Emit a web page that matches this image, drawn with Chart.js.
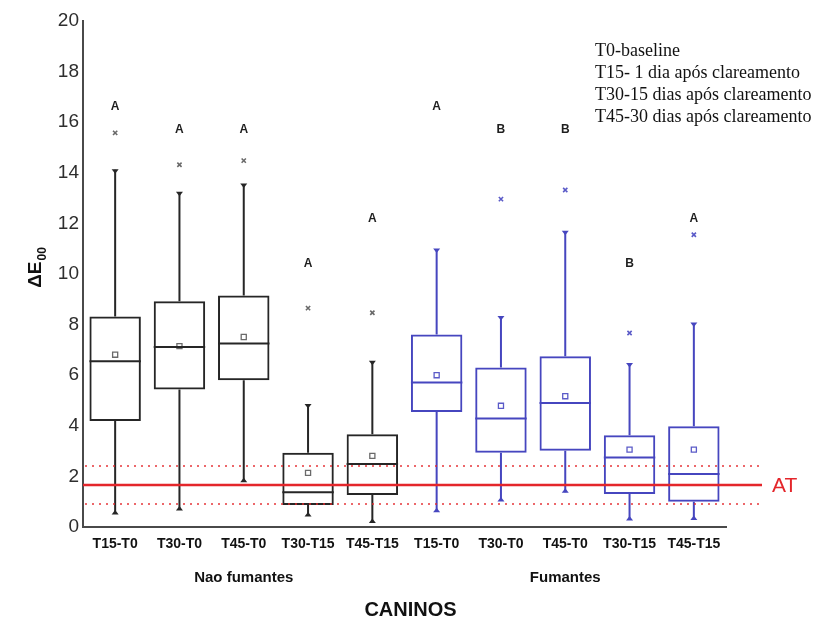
<!DOCTYPE html>
<html>
<head>
<meta charset="utf-8">
<script src="https://cdn.jsdelivr.net/npm/chart.js@4/dist/chart.umd.min.js"></script>
<style>
  html, body { margin: 0; padding: 0; background: #ffffff; }
  #wrap { position: relative; width: 822px; height: 625px; }
</style>
</head>
<body>
<div id="wrap"><canvas id="c" width="822" height="625"></canvas></div>
<script>
// ---- data ----
const categories = ['T15-T0', 'T30-T0', 'T45-T0', 'T30-T15', 'T45-T15', 'T15-T0', 'T30-T0', 'T45-T0', 'T30-T15', 'T45-T15'];
const groupNames = ['Nao fumantes', 'Fumantes'];
const groupOf = [0, 0, 0, 0, 0, 1, 1, 1, 1, 1];
const lowWhisker  = [0.51, 0.67, 1.79, 0.43, 0.18, 0.60, 1.03, 1.37, 0.28, 0.30];
const q1          = [4.19, 5.43, 5.80, 0.87, 1.26, 4.55, 2.93, 3.01, 1.30, 1.00];
const medians     = [6.55, 7.11, 7.25, 1.37, 2.49, 5.71, 4.29, 4.90, 2.75, 2.09];
const q3          = [8.32, 8.92, 9.15, 2.93, 3.67, 7.61, 6.30, 6.75, 3.63, 3.98];
const highWhisker = [14.12, 13.23, 13.56, 4.84, 6.55, 10.99, 8.32, 11.69, 6.46, 8.06];
const means       = [6.81, 7.15, 7.51, 2.14, 2.81, 6.00, 4.79, 5.17, 3.06, 3.06];
const outliers    = [15.58, 14.32, 14.48, 8.65, 8.47, null, 12.96, 13.32, 7.67, 11.55];
const letters     = ['A', 'A', 'A', 'A', 'A', 'A', 'B', 'B', 'B', 'A'];
const letterValue = [16.6, 15.7, 15.7, 10.4, 12.2, 16.6, 15.7, 15.7, 10.4, 12.2];
const atValue = 1.66;
const atLower = 0.91;
const atUpper = 2.41;
const atLabel = 'AT';
const notes = ['T0-baseline', 'T15- 1 dia após clareamento', 'T30-15 dias após clareamento', 'T45-30 dias após clareamento'];
const yMin = 0, yMax = 20, yStep = 2;
const xTitle = 'CANINOS';

// ---- styles ----
const groupColors = ['#262626', '#4646bf'];
const markerColors = ['#6a6a6a', '#5b5bc8'];
const red = '#e4262b';
const colorOf = i => groupColors[groupOf[i]];

const boxPlotPlugin = {
  id: 'boxExtras',
  afterDatasetsDraw(chart) {
    const ctx = chart.ctx;
    const xs = chart.scales.x, ys = chart.scales.y;
    const ca = chart.chartArea;
    const boxes = chart.getDatasetMeta(0).data;
    ctx.save();
    categories.forEach((c, i) => {
      const x = xs.getPixelForValue(i);
      const col = colorOf(i);
      const bar = boxes[i];
      const half = bar.width / 2;
      ctx.strokeStyle = col;
      ctx.fillStyle = col;
      ctx.lineWidth = 2;
      // whiskers
      const yH = ys.getPixelForValue(highWhisker[i]);
      const yQ3 = ys.getPixelForValue(q3[i]);
      const yQ1 = ys.getPixelForValue(q1[i]);
      const yL = ys.getPixelForValue(lowWhisker[i]);
      ctx.beginPath();
      ctx.moveTo(x, yQ3); ctx.lineTo(x, yH);
      ctx.moveTo(x, yQ1); ctx.lineTo(x, yL);
      ctx.stroke();
      // caps
      ctx.beginPath();
      ctx.moveTo(x - 3.5, yH - 0.5); ctx.lineTo(x + 3.5, yH - 0.5); ctx.lineTo(x, yH + 4); ctx.closePath();
      ctx.fill();
      ctx.beginPath();
      ctx.moveTo(x - 3.5, yL + 0.5); ctx.lineTo(x + 3.5, yL + 0.5); ctx.lineTo(x, yL - 4); ctx.closePath();
      ctx.fill();
      // median
      const yM = ys.getPixelForValue(medians[i]);
      ctx.beginPath();
      ctx.moveTo(x - half, yM); ctx.lineTo(x + half, yM);
      ctx.stroke();
      // letters
      ctx.fillStyle = '#1e1e1e';
      ctx.font = 'bold 12px "Liberation Sans", Arial, sans-serif';
      ctx.textAlign = 'center';
      ctx.textBaseline = 'middle';
      ctx.fillText(letters[i], x, ys.getPixelForValue(letterValue[i]));
    });
    // AT reference lines
    const xEnd = 762;
    ctx.strokeStyle = red;
    ctx.lineWidth = 2.5;
    ctx.setLineDash([]);
    ctx.beginPath();
    const yAT = ys.getPixelForValue(atValue);
    ctx.moveTo(ca.left, yAT); ctx.lineTo(xEnd, yAT);
    ctx.stroke();
    ctx.globalAlpha = 0.7;
    ctx.lineWidth = 2;
    ctx.setLineDash([2, 5]);
    [atLower, atUpper].forEach(v => {
      const y = ys.getPixelForValue(v);
      ctx.beginPath();
      ctx.moveTo(ca.left + 2, y); ctx.lineTo(xEnd, y);
      ctx.stroke();
    });
    ctx.setLineDash([]);
    ctx.globalAlpha = 1;
    ctx.fillStyle = red;
    ctx.font = '21px "Liberation Sans", Arial, sans-serif';
    ctx.textAlign = 'left';
    ctx.textBaseline = 'middle';
    ctx.fillText(atLabel, 772, yAT + 1);

    // notes (top right)
    ctx.fillStyle = '#111';
    ctx.font = '18px "Liberation Serif", "Times New Roman", serif';
    ctx.textAlign = 'left';
    ctx.textBaseline = 'middle';
    notes.forEach((t, k) => ctx.fillText(t, 595, 51 + k * 22));

    // group labels
    ctx.fillStyle = '#111';
    ctx.font = 'bold 15px "Liberation Sans", Arial, sans-serif';
    ctx.textAlign = 'center';
    groupNames.forEach((g, gi) => {
      const idx = categories.map((c, i) => i).filter(i => groupOf[i] === gi);
      const xc = (xs.getPixelForValue(idx[0]) + xs.getPixelForValue(idx[idx.length - 1])) / 2;
      ctx.fillText(g, xc, 578);
    });
    // axis title
    ctx.font = 'bold 20px "Liberation Sans", Arial, sans-serif';
    ctx.fillText(xTitle, (ca.left + ca.right) / 2 + 6, 610);

    // y title: ΔE with subscript 00
    ctx.save();
    ctx.translate(36, 268);
    ctx.rotate(-Math.PI / 2);
    ctx.font = 'bold 19px "Liberation Sans", Arial, sans-serif';
    const w1 = ctx.measureText('ΔE').width;
    ctx.font = 'bold 12px "Liberation Sans", Arial, sans-serif';
    const w2 = ctx.measureText('00').width;
    const start = -(w1 + w2) / 2;
    ctx.textAlign = 'left';
    ctx.textBaseline = 'middle';
    ctx.font = 'bold 19px "Liberation Sans", Arial, sans-serif';
    ctx.fillText('ΔE', start, 0);
    ctx.font = 'bold 12px "Liberation Sans", Arial, sans-serif';
    ctx.fillText('00', start + w1 + 1, 7);
    ctx.restore();
    ctx.restore();
  }
};

new Chart(document.getElementById('c'), {
  type: 'bar',
  data: {
    labels: categories,
    datasets: [
      {
        label: 'box',
        data: categories.map((c, i) => [q1[i], q3[i]]),
        backgroundColor: 'rgba(255,255,255,0)',
        borderColor: categories.map((c, i) => colorOf(i)),
        borderWidth: 2,
        borderSkipped: false,
        barPercentage: 0.8,
        categoryPercentage: 1.0,
        order: 3
      },
      {
        type: 'line',
        label: 'mean',
        data: means,
        showLine: false,
        pointStyle: 'rect',
        pointRadius: 3.6,
        pointBorderWidth: 1.3,
        pointBackgroundColor: '#ffffff',
        pointBorderColor: categories.map((c, i) => markerColors[groupOf[i]]),
        order: 1
      },
      {
        type: 'line',
        label: 'outliers',
        data: outliers,
        showLine: false,
        pointStyle: 'crossRot',
        pointRadius: 3,
        pointBorderWidth: 1.6,
        pointBorderColor: categories.map((c, i) => markerColors[groupOf[i]]),
        order: 2
      }
    ]
  },
  options: {
    responsive: false,
    animation: false,
    devicePixelRatio: 1,
    layout: { padding: { left: 0, right: 96, top: 21, bottom: 0 } },
    plugins: { legend: { display: false }, tooltip: { enabled: false } },
    scales: {
      x: {
        grid: { display: false, drawTicks: false },
        border: { display: true, color: '#4a4a4a', width: 2 },
        ticks: {
          padding: 9,
          color: '#111',
          maxRotation: 0,
          autoSkip: false,
          font: { family: '"Liberation Sans", Arial, sans-serif', size: 14, weight: 'bold' }
        },
        afterFit: s => { s.height = 98; }
      },
      y: {
        min: yMin, max: yMax,
        grid: { display: false, drawTicks: false },
        border: { display: true, color: '#4a4a4a', width: 2 },
        ticks: {
          stepSize: yStep,
          padding: 4,
          color: '#2e2e2e',
          font: { family: '"Liberation Sans", Arial, sans-serif', size: 19 }
        },
        afterFit: s => { s.width = 83; }
      }
    }
  },
  plugins: [boxPlotPlugin]
});
</script>
</body>
</html>
